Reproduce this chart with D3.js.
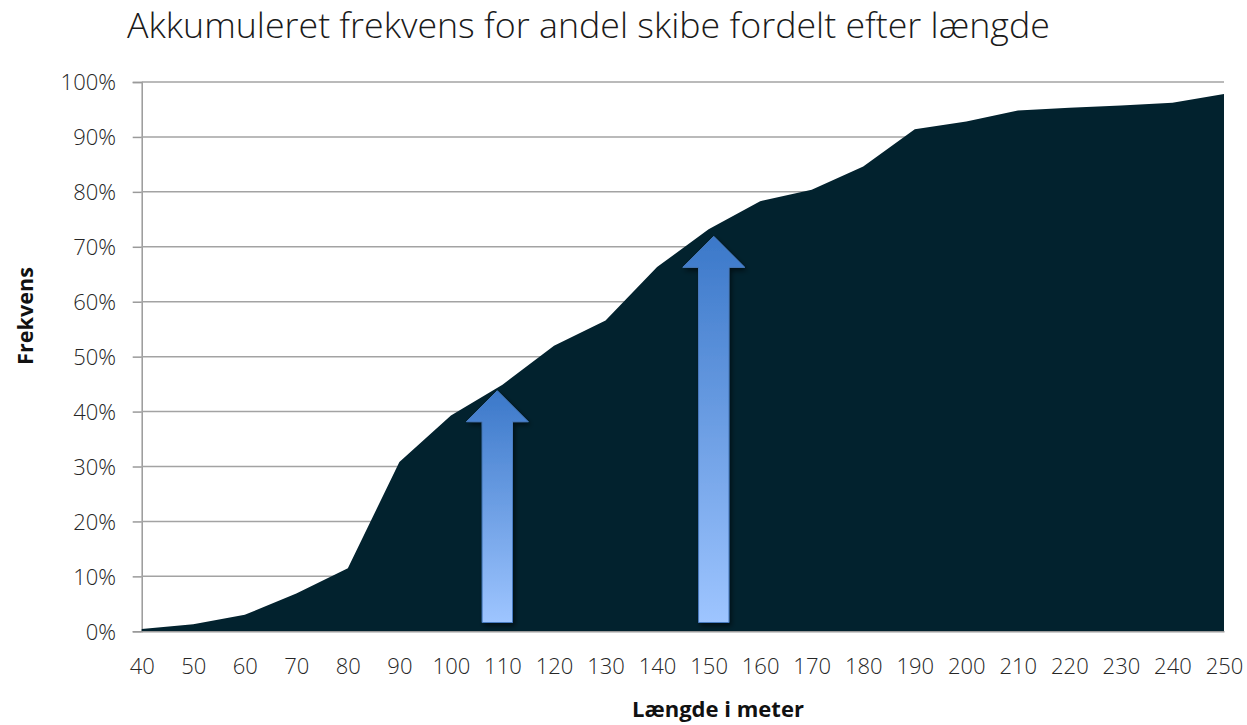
<!DOCTYPE html>
<html>
<head>
<meta charset="utf-8">
<script src="https://cdn.jsdelivr.net/npm/d3@7"></script>
<style>
  html, body { margin: 0; padding: 0; background: #ffffff; }
  svg { display: block; }
</style>
</head>
<body>
<svg id="chart" width="1247" height="725"></svg>
<script>
// ---- data ----
const lengths = [40, 50, 60, 70, 80, 90, 100, 110, 120, 130, 140, 150, 160, 170, 180, 190, 200, 210, 220, 230, 240, 250];
const cumulativePct = [0.4, 1.3, 3.0, 6.9, 11.5, 30.8, 39.3, 44.9, 52.0, 56.6, 66.3, 73.2, 78.3, 80.4, 84.6, 91.4, 92.8, 94.8, 95.3, 95.7, 96.2, 97.8];
const yTicks = [0, 10, 20, 30, 40, 50, 60, 70, 80, 90, 100];
const arrowLength = [109, 151];      // position of annotation arrows (m)
const arrowTopPct = [43.8, 71.9];    // tip of arrows (%)
const arrowBottomPct = [1.6, 1.6];   // base of arrows (%)
const titleText = "Akkumuleret frekvens for andel skibe fordelt efter længde";
const xTitle = "Længde i meter";
const yTitle = "Frekvens";

(function () {
// ---- layout ----
const svg = d3.select("#chart");
const pLeft = 141.7, pRight = 1224, pTop = 82, pBottom = 631.3;
const font = "'Open Sans', 'Lato', sans-serif";

const x = d3.scalePoint().domain(lengths).range([pLeft, pRight]);
const xLin = d3.scaleLinear().domain([lengths[0], lengths[lengths.length - 1]]).range([pLeft, pRight]);
const y = d3.scaleLinear().domain([0, 100]).range([pBottom, pTop]);

const defs = svg.append("defs");
const grad = defs.append("linearGradient").attr("id", "arrowGrad")
  .attr("x1", 0).attr("y1", 0).attr("x2", 0).attr("y2", 1);
grad.append("stop").attr("offset", "0%").attr("stop-color", "#3b78c9");
grad.append("stop").attr("offset", "100%").attr("stop-color", "#9ec5ff");
const f = defs.append("filter").attr("id", "shadow").attr("x", "-30%").attr("y", "-10%").attr("width", "160%").attr("height", "130%");
f.append("feDropShadow").attr("dx", 2).attr("dy", 3).attr("stdDeviation", 2.5)
  .attr("flood-color", "#000").attr("flood-opacity", 0.55);

// gridlines + y-axis
const yAxis = d3.axisLeft(y).tickValues(yTicks).tickSize(9).tickFormat(d => d + "%").tickPadding(16);
const gY = svg.append("g").attr("transform", `translate(${pLeft},0)`).call(yAxis);
gY.select(".domain").attr("stroke", "#9a9a9a").attr("stroke-width", 1.5);
gY.selectAll(".tick line").attr("stroke", "#9a9a9a").attr("stroke-width", 1.5);
gY.selectAll(".tick text")
  .attr("font-family", font).attr("font-weight", 300).attr("font-size", 22)
  .attr("fill", "#262626").attr("x", 116 - pLeft).attr("dy", "0.36em");

svg.append("g").selectAll("line").data(yTicks).join("line")
  .attr("x1", pLeft).attr("x2", pRight)
  .attr("y1", d => y(d)).attr("y2", d => y(d))
  .attr("stroke", "#a3a3a3").attr("stroke-width", 1.5);

// area
const area = d3.area()
  .x((d, i) => x(lengths[i]))
  .y0(y(0))
  .y1(d => y(d));
svg.append("path").datum(cumulativePct)
  .attr("d", area)
  .attr("fill", "#02222e");

// x-axis
const xAxis = d3.axisBottom(x).tickSize(0).tickPadding(0);
const gX = svg.append("g").attr("transform", `translate(0,${pBottom})`).call(xAxis);
gX.select(".domain").attr("stroke", "#9a9a9a").attr("stroke-width", 1.5);
gX.selectAll(".tick text")
  .attr("font-family", font).attr("font-weight", 300).attr("font-size", 22)
  .attr("fill", "#262626").attr("y", 43).attr("dy", 0);

// arrows
const arrowData = arrowLength.map((v, i) => ({ v, t: arrowTopPct[i], b: arrowBottomPct[i] }));
svg.append("g").selectAll("path").data(arrowData).join("path")
  .attr("d", d => {
    const cx = xLin(d.v), ty = y(d.t), by = y(d.b);
    const headH = 31, headW = 31, shaftW = 15.2;
    const p = d3.path();
    p.moveTo(cx, ty);
    p.lineTo(cx + headW, ty + headH);
    p.lineTo(cx + shaftW, ty + headH);
    p.lineTo(cx + shaftW, by);
    p.lineTo(cx - shaftW, by);
    p.lineTo(cx - shaftW, ty + headH);
    p.lineTo(cx - headW, ty + headH);
    p.closePath();
    return p.toString();
  })
  .attr("fill", "url(#arrowGrad)")
  .attr("stroke", "#4a7cc0").attr("stroke-width", 1)
  .attr("filter", "url(#shadow)");

// helper: fit text to width
function fit(sel, target) {
  const w = sel.node().getComputedTextLength();
  const fs = parseFloat(sel.attr("font-size"));
  if (w > 0) sel.attr("font-size", fs * target / w);
}

// title
const t = svg.append("text").text(titleText)
  .attr("x", 127).attr("y", 38)
  .attr("font-family", font).attr("font-weight", 300).attr("font-size", 34)
  .attr("fill", "#1a1a1a");
fit(t, 923);

// axis titles
const xt = svg.append("text").text(xTitle)
  .attr("x", 718).attr("y", 717).attr("text-anchor", "middle")
  .attr("font-family", font).attr("font-weight", 700).attr("font-size", 20)
  .attr("fill", "#111");
fit(xt, 172);

const yt = svg.append("text").text(yTitle)
  .attr("transform", "translate(33,316) rotate(-90)").attr("text-anchor", "middle")
  .attr("font-family", font).attr("font-weight", 700).attr("font-size", 20)
  .attr("fill", "#111");
fit(yt, 98);
})();
</script>
</body>
</html>
